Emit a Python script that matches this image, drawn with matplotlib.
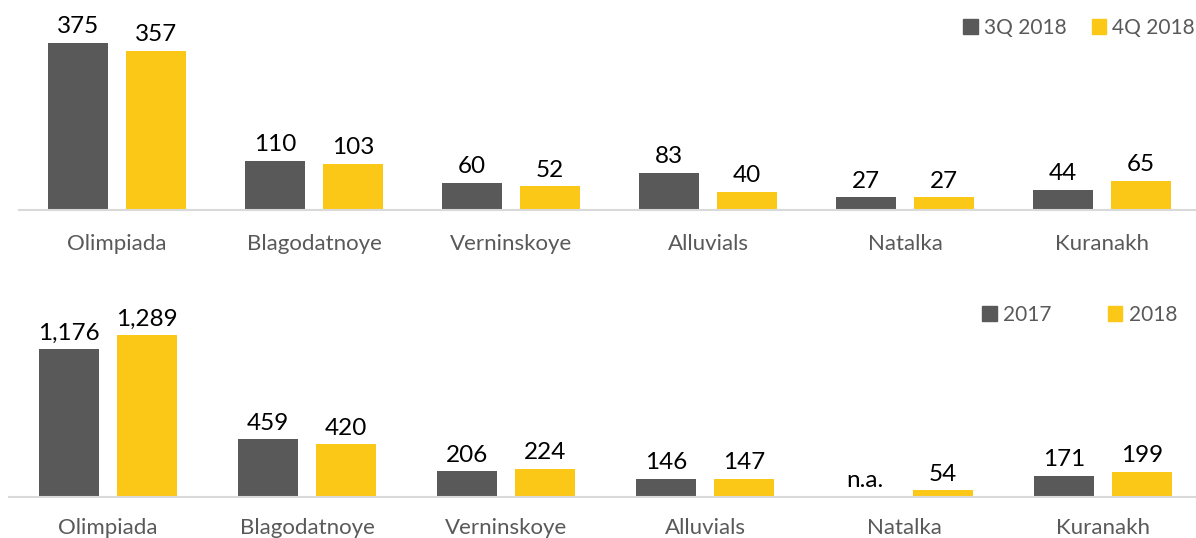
import numpy as np
import matplotlib.pyplot as plt
from matplotlib.patches import Patch

# =====================================
# Data
# =====================================

mines = ["Olimpiada", "Blagodatnoye", "Verninskoye",
         "Alluvials", "Natalka", "Kuranakh"]

q3_2018 = [375, 110, 60, 83, 27, 44]
q4_2018 = [357, 103, 52, 40, 27, 65]

y2017 = [1176, 459, 206, 146, np.nan, 171]
y2018 = [1289, 420, 224, 147, 54, 199]

top_labels = ["3Q 2018", "4Q 2018"]
bottom_labels = ["2017", "2018"]

GREY = "#595959"
YELLOW = "#FCC817"
TEXT_GREY = "#595959"

plt.rcParams['font.family'] = ['Lato', 'DejaVu Sans']

W, H = 1196, 538
fig = plt.figure(figsize=(W / 100, H / 100), dpi=100)


def px_axes(left, base, width, height):
    # left / base are pixel positions (base measured from image top)
    return fig.add_axes([left / W, (H - base) / H, width / W, height / H])


def draw_panel(ax, a, b, ymax, offset, width, legend_labels, legend_xy,
               colspace, label_pad):
    x = np.arange(len(mines))
    ax.bar(x - offset, np.nan_to_num(a), width, color=GREY)
    ax.bar(x + offset, b, width, color=YELLOW)

    for xi, v in zip(x, a):
        txt = "n.a." if np.isnan(v) else f"{v:,.0f}"
        ax.annotate(txt, (xi - offset, 0 if np.isnan(v) else v),
                    xytext=(0, 4), textcoords="offset points",
                    ha="center", va="bottom", fontsize=17.5, color="black")
    for xi, v in zip(x, b):
        ax.annotate(f"{v:,.0f}", (xi + offset, v),
                    xytext=(0, 4), textcoords="offset points",
                    ha="center", va="bottom", fontsize=17.5, color="black")

    ax.set_xlim(-0.5, len(mines) - 0.5)
    ax.set_ylim(0, ymax)
    ax.set_xticks(x)
    ax.set_xticklabels(mines, fontsize=16, color=TEXT_GREY)
    ax.tick_params(axis="x", length=0, pad=label_pad)
    ax.set_yticks([])
    for s in ["top", "left", "right"]:
        ax.spines[s].set_visible(False)
    ax.spines["bottom"].set_color("#D9D9D9")
    ax.spines["bottom"].set_linewidth(1.5)
    ax.set_facecolor("none")

    handles = [Patch(color=GREY), Patch(color=YELLOW)]
    fig.legend(handles, legend_labels, loc="center right",
               bbox_to_anchor=(legend_xy[0] / W, (H - legend_xy[1]) / H),
               ncol=2, frameon=False, fontsize=15,
               labelcolor=TEXT_GREY, handlelength=0.7, handleheight=0.7,
               handletextpad=0.3, columnspacing=colspace,
               borderaxespad=0, borderpad=0)


# =====================================
# Top panel
# =====================================

ax_top = px_axes(18.5, 209.5, 1182, 180)
draw_panel(ax_top, q3_2018, q4_2018, 180 / 0.445, 0.198, 0.305,
           top_labels, (1195, 28), 1.2, 18)

# =====================================
# Bottom panel
# =====================================

ax_bot = px_axes(8.5, 497, 1194, 180)
draw_panel(ax_bot, y2017, y2018, 180 / 0.1257, 0.196, 0.30,
           bottom_labels, (1177, 315), 2.7, 15)

fig.savefig("out.png", dpi=100)
